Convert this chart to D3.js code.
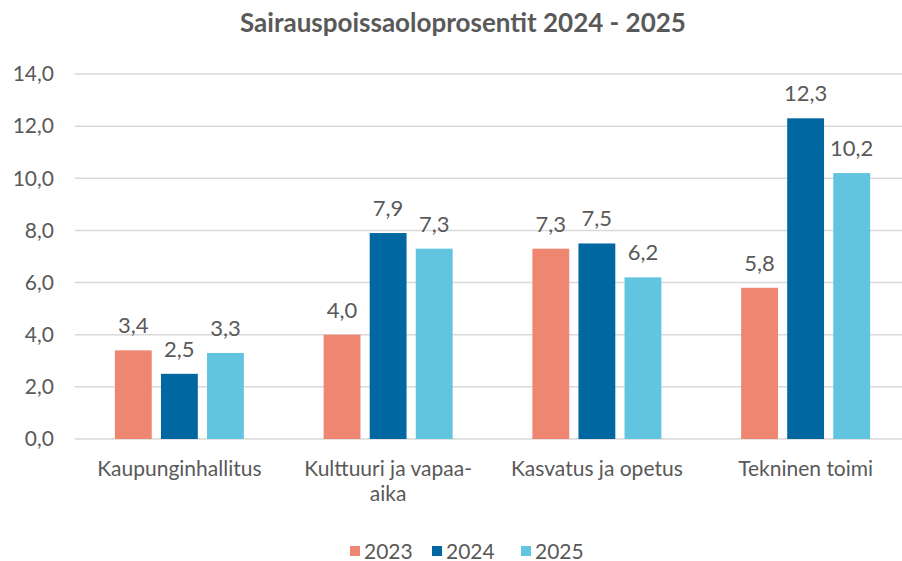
<!DOCTYPE html>
<html>
<head>
<meta charset="utf-8">
<script src="https://cdn.jsdelivr.net/npm/d3@7"></script>
<style>
  body { margin: 0; background: #fff; }
  svg text { font-family: Lato, "Open Sans", sans-serif; fill: #595959; }
</style>
</head>
<body>
<div id="canvas"></div>
<script>
// datos del gráfico
var kategoriat = ["Kaupunginhallitus", "Kulttuuri ja vapaa-aika", "Kasvatus ja opetus", "Tekninen toimi"];
var vuodet = ["2023", "2024", "2025"];
var arvot2023 = [3.4, 4.0, 7.3, 5.8];
var arvot2024 = [2.5, 7.9, 7.5, 12.3];
var arvot2025 = [3.3, 7.3, 6.2, 10.2];
var yTicks = [0, 2, 4, 6, 8, 10, 12, 14];
var otsikko = "Sairauspoissaoloprosentit 2024 - 2025";

var sarjat = [arvot2023, arvot2024, arvot2025];
var varit = ["#EF8672", "#0067A0", "#62C5E0"];

var width = 902;
var height = 561;
var margin = {top: 74, right: -8, bottom: 122, left: 75};

var datos = [];
kategoriat.forEach(function(k, i) {
    vuodet.forEach(function(v, j) {
        datos.push({ kategoria: k, vuosi: v, valor: sarjat[j][i] });
    });
});

var fmt = function(v) { return d3.format(".1f")(v).replace(".", ","); };

var svg = d3.select("#canvas").append("svg")
    .attr("width", width)
    .attr("height", height);

var x = d3.scaleBand()
    .domain(kategoriat)
    .range([margin.left, width - margin.right]);

var x1 = d3.scaleBand()
    .domain(vuodet)
    .range([-64.5, 64.5])
    .paddingInner(0.2);

var y = d3.scaleLinear()
    .domain([0, 14])
    .range([height - margin.bottom, margin.top]);

var color = d3.scaleOrdinal().domain(vuodet).range(varit);

// título
svg.append("text")
    .attr("x", 463)
    .attr("y", 32)
    .attr("text-anchor", "middle")
    .attr("font-size", "26px")
    .attr("font-weight", "bold")
    .text(otsikko);

// líneas de la cuadrícula
svg.append("g")
    .selectAll("line")
    .data(yTicks)
    .enter().append("line")
    .attr("x1", margin.left)
    .attr("x2", width)
    .attr("y1", function(d) { return y(d); })
    .attr("y2", function(d) { return y(d); })
    .attr("stroke", "#D9D9D9")
    .attr("stroke-width", 1.5);

// eje y
var ejeY = svg.append("g")
    .attr("transform", "translate(" + (margin.left - 21) + ",0)")
    .call(d3.axisLeft(y).tickValues(yTicks).tickFormat(fmt).tickSize(0).tickPadding(0));
ejeY.select(".domain").remove();
ejeY.selectAll("text")
    .attr("font-size", "21px")
    .attr("font-family", null)
    .attr("fill", null);

// barras
svg.selectAll(".barra")
    .data(datos)
    .enter().append("rect")
    .attr("class", "barra")
    .attr("x", function(d) { return x(d.kategoria) + x.bandwidth() / 2 + x1(d.vuosi); })
    .attr("y", function(d) { return y(d.valor); })
    .attr("width", x1.bandwidth())
    .attr("height", function(d) { return y(0) - y(d.valor); })
    .attr("fill", function(d) { return color(d.vuosi); });

// etiquetas de valor
svg.selectAll(".valor")
    .data(datos)
    .enter().append("text")
    .attr("class", "valor")
    .attr("x", function(d) { return x(d.kategoria) + x.bandwidth() / 2 + x1(d.vuosi) + x1.bandwidth() / 2; })
    .attr("y", function(d) { return y(d.valor) - 17; })
    .attr("text-anchor", "middle")
    .attr("font-size", "22px")
    .text(function(d) { return fmt(d.valor); });

// etiquetas de categoría (con salto de línea)
var etiquetas = svg.append("g")
    .selectAll("text")
    .data(kategoriat)
    .enter().append("text")
    .attr("x", function(d) { return x(d) + x.bandwidth() / 2; })
    .attr("y", 476)
    .attr("text-anchor", "middle")
    .attr("font-size", "21px");

etiquetas.each(function(d) {
    var lineas = d === "Kulttuuri ja vapaa-aika" ? ["Kulttuuri ja vapaa-", "aika"] : [d];
    var t = d3.select(this);
    lineas.forEach(function(l, i) {
        t.append("tspan")
            .attr("x", x(d) + x.bandwidth() / 2)
            .attr("dy", i === 0 ? 0 : 25)
            .text(l);
    });
});

// leyenda
var leyendaX = [350, 432, 521];
var leyenda = svg.append("g")
    .selectAll("g")
    .data(vuodet)
    .enter().append("g")
    .attr("transform", function(d, i) { return "translate(" + leyendaX[i] + ",551)"; });

leyenda.append("rect")
    .attr("x", 0)
    .attr("y", -5)
    .attr("width", 10)
    .attr("height", 10)
    .attr("fill", function(d) { return color(d); });

leyenda.append("text")
    .attr("x", 14)
    .attr("y", 7.5)
    .attr("font-size", "21px")
    .text(function(d) { return d; });
</script>
</body>
</html>
